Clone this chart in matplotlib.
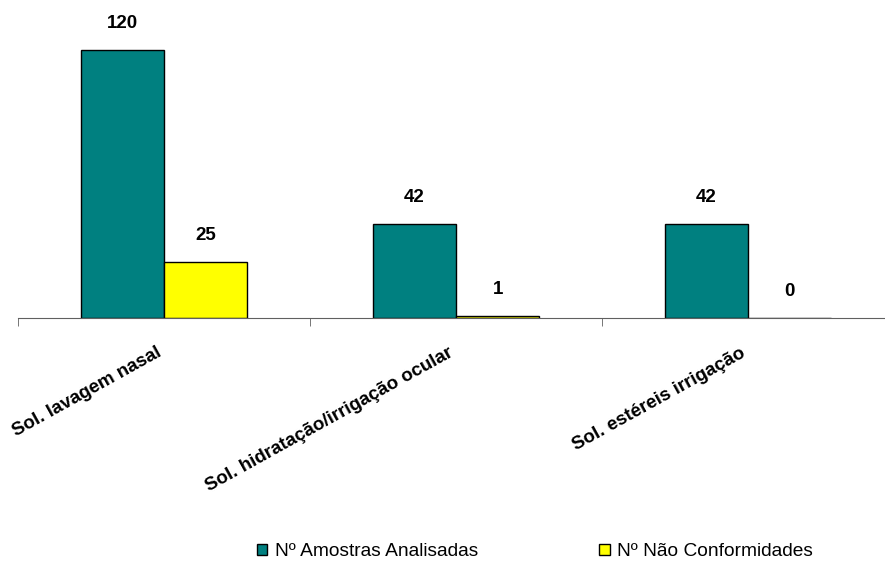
import matplotlib
matplotlib.use("Agg")
import matplotlib.pyplot as plt
import matplotlib.transforms as mtransforms
import numpy as np

categories = ["Sol. lavagem nasal", "Sol. hidratação/irrigação ocular", "Sol. estéreis irrigação"]
amostras = [120, 42, 42]
nao_conf = [25, 1, 0]
series_names = ["Nº Amostras Analisadas", "Nº Não Conformidades"]
colors = ["#008080", "#FFFF00"]

plt.rcParams['font.family'] = ['Liberation Sans', 'DejaVu Sans']

W, H = 885, 563
fig = plt.figure(figsize=(W/100, H/100), dpi=100)
left_px, right_px = 18, 894
base_px, top_px = 318, 28
ax = fig.add_axes([left_px/W, 1-base_px/H, (right_px-left_px)/W, (base_px-top_px)/H])

x = np.arange(len(categories))
bw = 0.285
b1 = ax.bar(x - bw/2, amostras, bw, color=colors[0], edgecolor='black', linewidth=1, label=series_names[0])
b2 = ax.bar(x + bw/2, nao_conf, bw, color=colors[1], edgecolor='black', linewidth=1, label=series_names[1])

for bars, vals in ((b1, amostras), (b2, nao_conf)):
    for r, v in zip(bars, vals):
        ax.annotate(str(v), (r.get_x() + r.get_width()/2, r.get_height()),
                    xytext=(0, 13), textcoords='offset points', ha='center', va='bottom',
                    fontsize=13.5, fontweight='bold')

ax.set_xlim(-0.5, len(categories) - 0.5)
ax.set_ylim(0, 130)
for s in ['top', 'right', 'left']:
    ax.spines[s].set_visible(False)
ax.spines['bottom'].set_color('#606060')
ax.set_yticks([])
ax.set_xticks(x)
ax.set_xticks(np.arange(-0.5, len(categories)), minor=True)
ax.tick_params(axis='x', which='major', length=0, pad=19)
ax.tick_params(axis='x', which='minor', length=6, color='#606060', direction='out')
ax.set_xticklabels(categories, rotation=29, ha='right', va='top', rotation_mode='anchor',
                   fontsize=13.5, fontweight='bold')
offset = mtransforms.ScaledTranslation(-8/100, 0, fig.dpi_scale_trans)
for lbl in ax.get_xticklabels():
    lbl.set_transform(lbl.get_transform() + offset)

handles = [plt.Rectangle((0, 0), 1, 1, facecolor=c, edgecolor='black', linewidth=1) for c in colors]
fig.legend(handles, series_names, loc='center', bbox_to_anchor=(535/W, 1-552/H), ncol=2,
           frameon=False, fontsize=13.8, handlelength=0.55, handleheight=0.55, handletextpad=0.4,
           columnspacing=6.3)

fig.savefig("out.png", dpi=100)
